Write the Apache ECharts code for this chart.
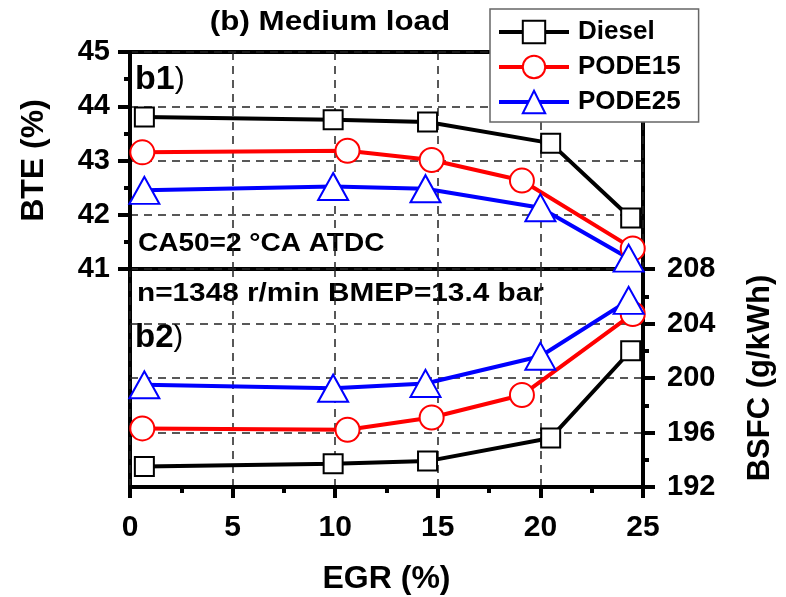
<!DOCTYPE html>
<html>
<head>
<meta charset="utf-8">
<script src="https://cdn.jsdelivr.net/npm/echarts@6/dist/echarts.min.js"></script>
<style>
  html, body { margin: 0; padding: 0; background: #fff; }
  #chart { width: 786px; height: 597px; }
</style>
</head>
<body>
<div id="chart"></div>
<script>
const FONT = '"Liberation Sans", Arial, sans-serif'

// EGR (%) of each operating point, per fuel
const egrDiesel = [0.7, 9.9, 14.5, 20.5, 24.4]
const egrP15 = [0.6, 10.6, 14.7, 19.1, 24.5]
const egrP25 = [0.7, 9.9, 14.4, 20.0, 24.3]

// BTE (%)
const bteDiesel = [43.8, 43.75, 43.71, 43.32, 41.94]
const bteP15 = [43.15, 43.18, 43.01, 42.63, 41.38]
const bteP25 = [42.45, 42.52, 42.48, 42.13, 41.2]

// BSFC (g/kWh)
const bsfcDiesel = [193.5, 193.7, 193.9, 195.6, 202.0]
const bsfcP15 = [196.3, 196.2, 197.1, 198.75, 204.7]
const bsfcP25 = [199.5, 199.25, 199.6, 201.6, 205.7]

const pairs = (xs, ys) => xs.map((x, i) => [x, ys[i]])

const dash = { color: '#222', width: 1.5, type: [8, 6] }
const tick = { show: true, length: 12, lineStyle: { color: '#000', width: 4 } }
const minor = { show: true, splitNumber: 2, length: 6, lineStyle: { color: '#000', width: 4 } }

const fuels = [
  { name: 'Diesel', color: '#000', symbol: 'emptyRect', size: 19, egr: egrDiesel, bte: bteDiesel, bsfc: bsfcDiesel },
  { name: 'PODE15', color: '#ff0000', symbol: 'emptyCircle', size: 24, egr: egrP15, bte: bteP15, bsfc: bsfcP15 },
  { name: 'PODE25', color: '#0000ff', symbol: 'emptyTriangle', size: [30, 27], egr: egrP25, bte: bteP25, bsfc: bsfcP25 }
]

const series = []
fuels.forEach(f => {
  const base = {
    name: f.name,
    type: 'line',
    symbol: f.symbol,
    symbolSize: f.size,
    clip: false,
    z: 3,
    lineStyle: { color: f.color, width: 4 },
    itemStyle: { color: f.color, borderWidth: 3 },
    emphasis: { disabled: true }
  }
  series.push(Object.assign({}, base, { xAxisIndex: 0, yAxisIndex: 0, data: pairs(f.egr, f.bte) }))
  series.push(Object.assign({}, base, { xAxisIndex: 1, yAxisIndex: 1, data: pairs(f.egr, f.bsfc) }))
})

const chart = echarts.init(document.getElementById('chart'))

chart.setOption({
  animation: false,
  textStyle: { fontFamily: FONT },
  grid: [
    { left: 130, right: 143, top: 52, height: 217, show: true, borderColor: '#000', borderWidth: 4 },
    { left: 130, right: 143, top: 269, height: 218, show: true, borderColor: '#000', borderWidth: 4 }
  ],
  xAxis: [{
    gridIndex: 0,
    type: 'value',
    min: 0,
    max: 25,
    interval: 5,
    axisLine: { show: false },
    axisTick: { show: false },
    axisLabel: { show: false },
    splitLine: { show: true, lineStyle: dash }
  }, {
    gridIndex: 1,
    type: 'value',
    min: 0,
    max: 25,
    interval: 5,
    axisLine: { show: true, onZero: false, lineStyle: { color: '#000', width: 4 } },
    axisTick: Object.assign({}, tick, { length: 11 }),
    minorTick: minor,
    axisLabel: { fontSize: 30, fontWeight: 'bold', color: '#000', margin: 26, fontFamily: FONT },
    splitLine: { show: true, lineStyle: dash },
    name: 'EGR (%)',
    nameLocation: 'middle',
    nameGap: 76,
    nameTextStyle: { fontSize: 32, fontWeight: 'bold', color: '#000', fontFamily: FONT }
  }],
  yAxis: [{
    gridIndex: 0,
    type: 'value',
    position: 'left',
    min: 41,
    max: 45,
    interval: 1,
    axisLine: { show: true, onZero: false, lineStyle: { color: '#000', width: 4 } },
    axisTick: tick,
    minorTick: minor,
    axisLabel: { fontSize: 29, fontWeight: 'bold', color: '#000', margin: 20, fontFamily: FONT },
    splitLine: { show: true, lineStyle: dash },
    name: 'BTE (%)',
    nameLocation: 'middle',
    nameRotate: 90,
    nameGap: 80,
    nameTextStyle: { fontSize: 32, fontWeight: 'bold', color: '#000', fontFamily: FONT }
  }, {
    gridIndex: 1,
    type: 'value',
    position: 'right',
    min: 192,
    max: 208,
    interval: 4,
    axisLine: { show: true, onZero: false, lineStyle: { color: '#000', width: 4 } },
    axisTick: tick,
    minorTick: minor,
    axisLabel: { fontSize: 29, fontWeight: 'bold', color: '#000', margin: 24, fontFamily: FONT },
    splitLine: { show: true, lineStyle: dash },
    name: 'BSFC (g/kWh)',
    nameLocation: 'middle',
    nameRotate: 90,
    nameGap: 102,
    nameTextStyle: { fontSize: 31, fontWeight: 'bold', color: '#000', fontFamily: FONT }
  }],
  legend: {
    orient: 'vertical',
    left: 490,
    top: 9,
    z: 10,
    data: ['Diesel', 'PODE15', 'PODE25'],
    itemWidth: 70,
    itemHeight: 28,
    itemGap: 9,
    padding: [10, 18, 7, 7],
    backgroundColor: '#fff',
    borderColor: '#666',
    borderWidth: 1.5,
    selectedMode: false,
    lineStyle: { width: 4 },
    itemStyle: { borderWidth: 3 },
    textStyle: { fontSize: 26, fontWeight: 'bold', color: '#000', fontFamily: FONT, padding: [0, 0, 0, 4] }
  },
  graphic: [{
    type: 'text',
    x: 330,
    y: 22,
    scaleX: 1.12,
    style: { text: '(b) Medium load', font: 'bold 28px ' + FONT, fill: '#000', textAlign: 'center', textVerticalAlign: 'middle' }
  }, {
    type: 'text',
    x: 135,
    y: 80,
    style: {
      text: '{a|b1}{b|)}',
      rich: {
        a: { font: 'bold 34px ' + FONT, fill: '#000' },
        b: { font: '30px ' + FONT, fill: '#000' }
      },
      textVerticalAlign: 'middle'
    }
  }, {
    type: 'text',
    x: 138,
    y: 244,
    scaleX: 1.12,
    style: { text: 'CA50=2 °CA ATDC', font: 'bold 25px ' + FONT, fill: '#000', textVerticalAlign: 'middle' }
  }, {
    type: 'text',
    x: 137,
    y: 294,
    scaleX: 1.19,
    style: { text: 'n=1348 r/min BMEP=13.4 bar', font: 'bold 25px ' + FONT, fill: '#000', textVerticalAlign: 'middle' }
  }, {
    type: 'text',
    x: 135,
    y: 338,
    style: {
      text: '{a|b2}{b|)}',
      rich: {
        a: { font: 'bold 33px ' + FONT, fill: '#000' },
        b: { font: '29px ' + FONT, fill: '#000' }
      },
      textVerticalAlign: 'middle'
    }
  }],
  series: series
})
</script>
</body>
</html>
